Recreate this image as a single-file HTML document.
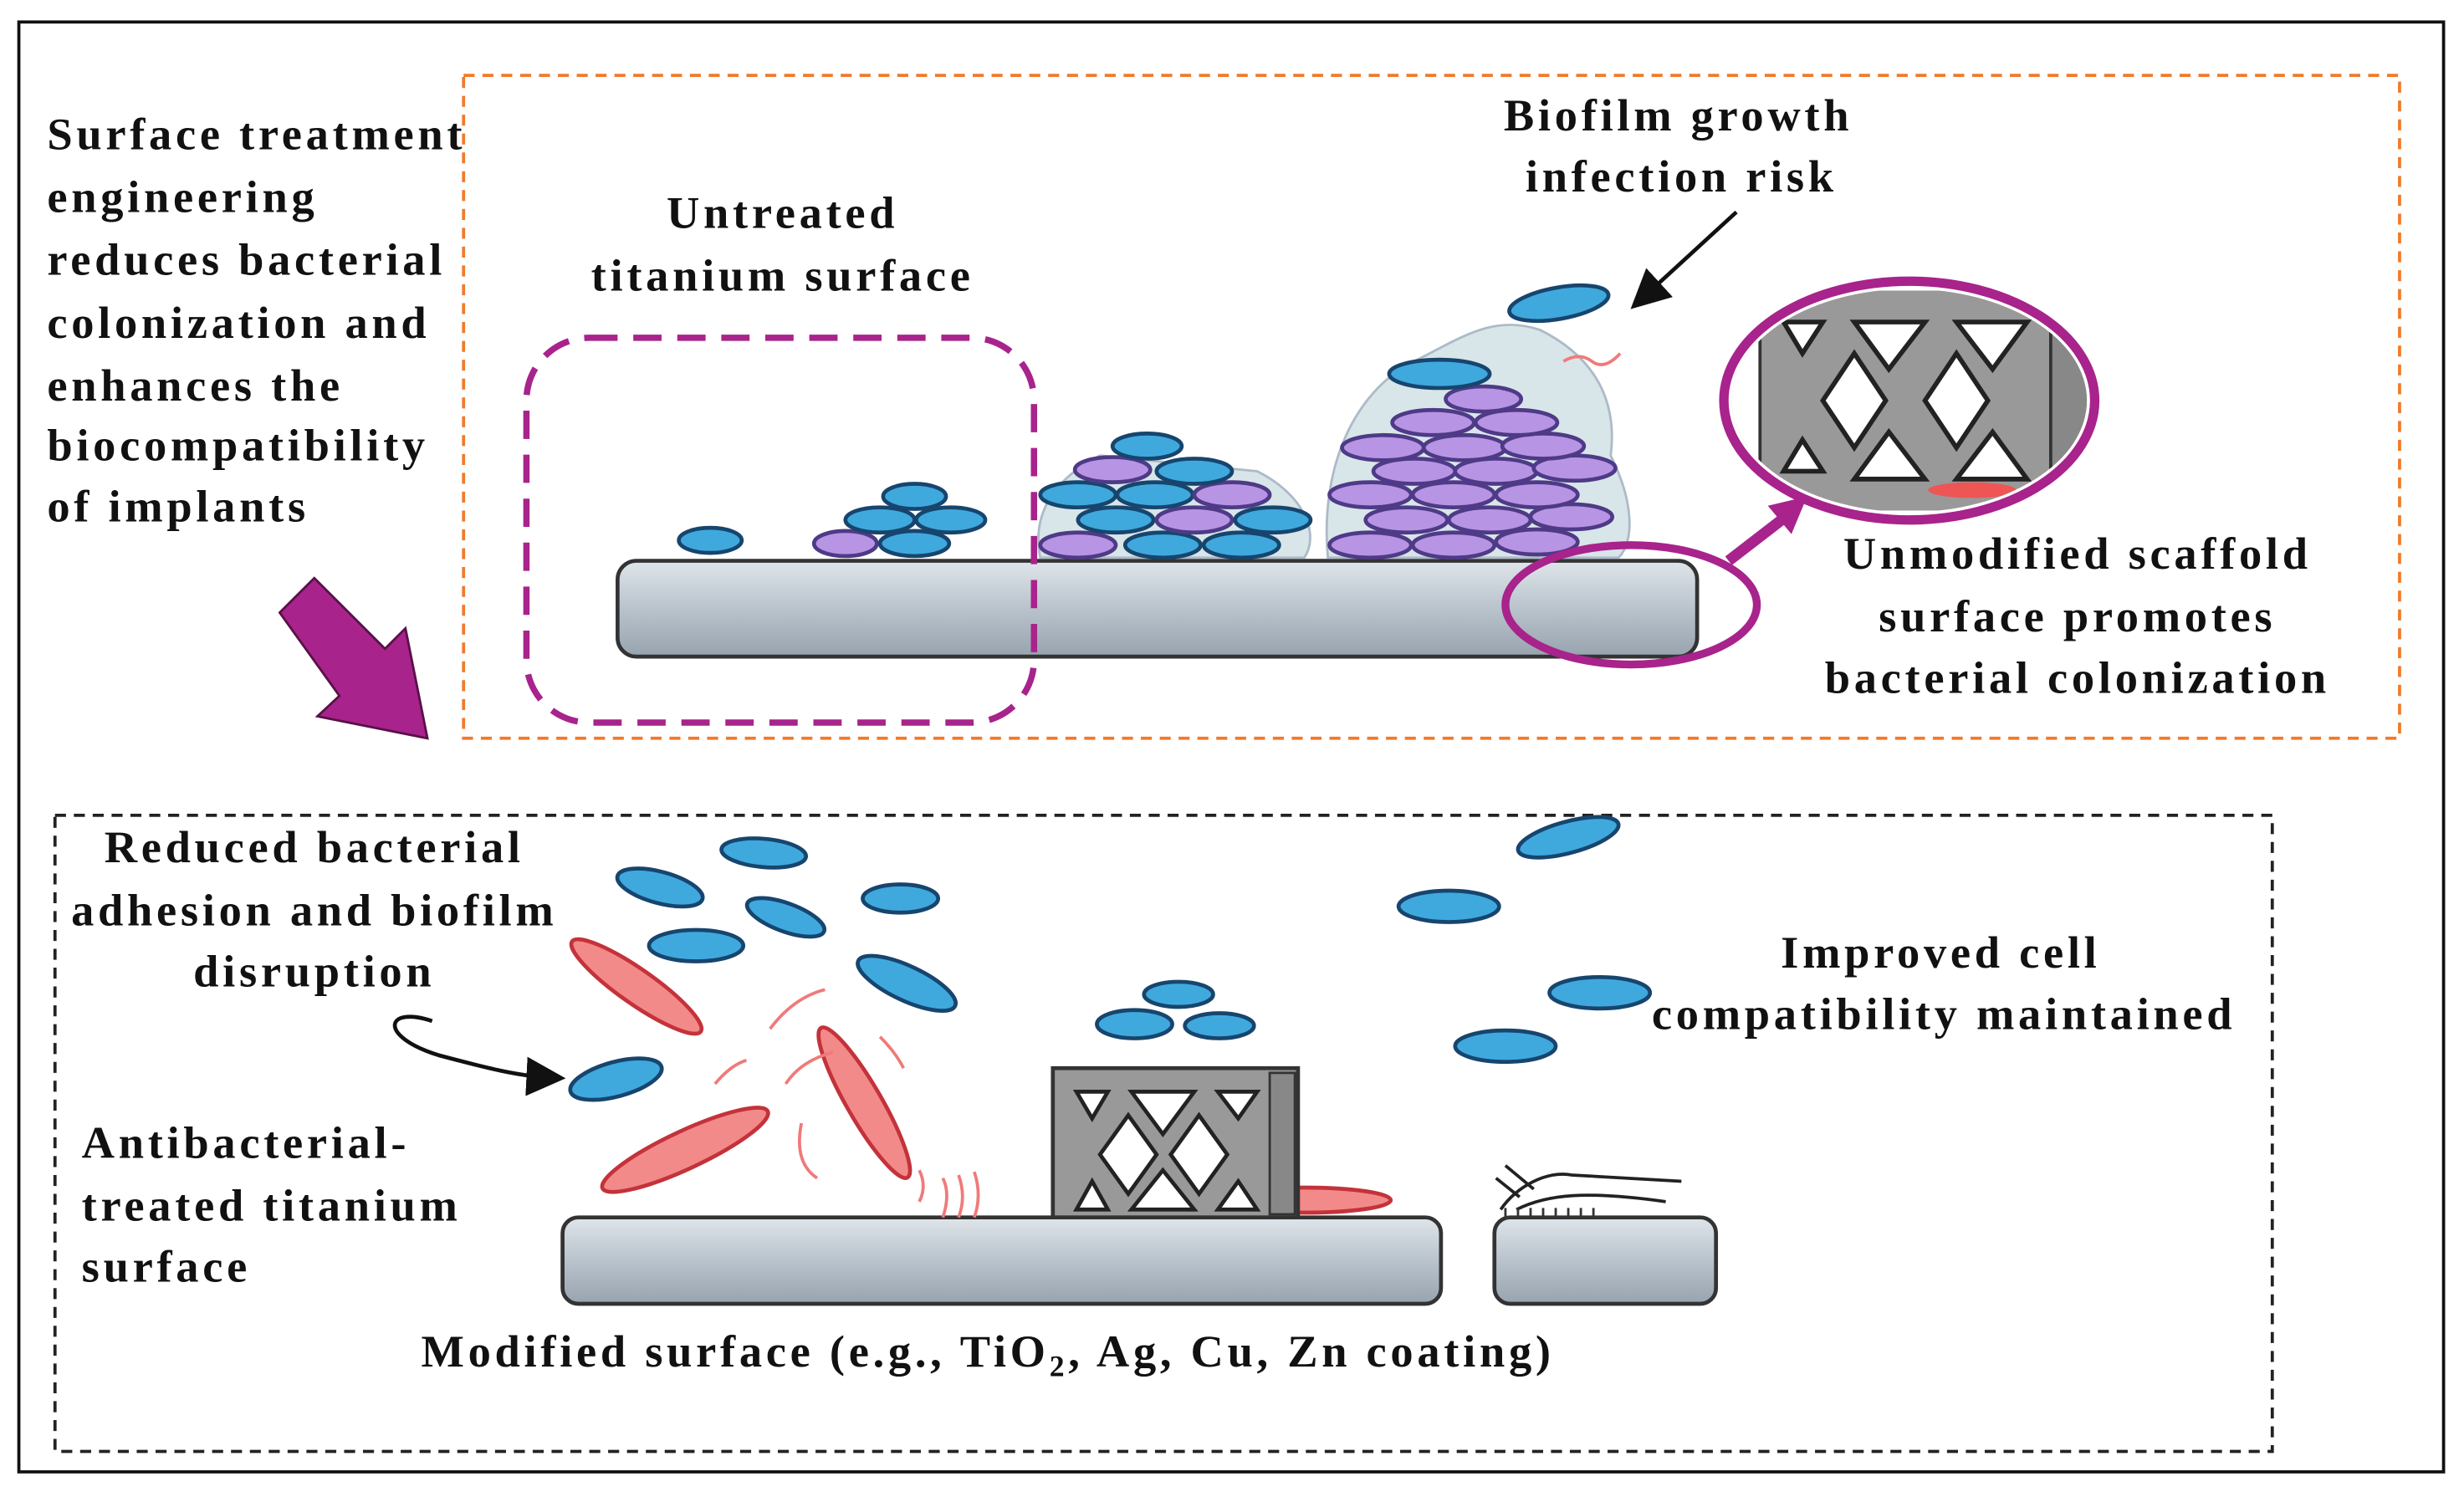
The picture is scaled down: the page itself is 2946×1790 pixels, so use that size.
<!DOCTYPE html>
<html><head><meta charset="utf-8"><style>
html,body{margin:0;padding:0;background:#fff}
svg{display:block}
text{font-family:"Liberation Serif",serif;font-weight:bold;font-size:29px;letter-spacing:2.5px;fill:#111}
.b{fill:#3fa9dd;stroke:#17456e;stroke-width:2.5}
.p{fill:#b794e4;stroke:#4e3a86;stroke-width:2.5}
.r{fill:#f28a8a;stroke:#c4323a;stroke-width:2.5}
.rl{fill:none;stroke:#f07a7a;stroke-width:2}
</style></head><body>
<svg width="2946" height="1790" viewBox="0 0 1568 953" preserveAspectRatio="none" xmlns="http://www.w3.org/2000/svg">
<defs>
<linearGradient id="g" x1="0" y1="0" x2="0" y2="1"><stop offset="0" stop-color="#dfe5ea"/><stop offset="0.5" stop-color="#b9c3cc"/><stop offset="1" stop-color="#97a3ae"/></linearGradient>
<marker id="ah" markerWidth="10" markerHeight="10" refX="6" refY="5" orient="auto"><path d="M0,0 L10,5 L0,10 z" fill="#111"/></marker>
</defs>
<rect x="12" y="14" width="1543" height="923" fill="none" stroke="#111" stroke-width="2"/>
<rect x="295" y="48" width="1232" height="422" fill="none" stroke="#f07a2a" stroke-width="2" stroke-dasharray="7,5"/>
<rect x="35" y="519" width="1411" height="405" fill="none" stroke="#222" stroke-width="2" stroke-dasharray="7,5"/>

<text x="30" y="95">Surface treatment</text>
<text x="30" y="135">engineering</text>
<text x="30" y="175">reduces bacterial</text>
<text x="30" y="215">colonization and</text>
<text x="30" y="255">enhances the</text>
<text x="30" y="293">biocompatibility</text>
<text x="30" y="332">of implants</text>

<path d="M178,390 L200,368 L245,413 L258,400 L272,470 L202,456 L216,443 Z" fill="#a8238c" stroke="#5a1048" stroke-width="1.5"/>

<rect x="393" y="357" width="687" height="61" rx="12" fill="url(#g)" stroke="#333" stroke-width="2.5"/>
<path d="M662,355 C655,320 680,300 700,290 L800,300 C830,315 840,340 830,355 Z" fill="#cfe0e4" stroke="#9ab" stroke-width="1.5" opacity="0.8"/>
<path d="M845,355 C840,300 860,250 900,230 C930,215 950,200 980,210 C1010,225 1030,250 1025,290 C1040,320 1040,345 1030,355 Z" fill="#cfe0e4" stroke="#9ab" stroke-width="1.5" opacity="0.8"/>
<rect x="335" y="215" width="323" height="245" rx="40" fill="none" stroke="#a8238c" stroke-width="4" stroke-dasharray="18,10"/>

<text x="498" y="145" text-anchor="middle">Untreated</text>
<text x="498" y="185" text-anchor="middle">titanium surface</text>
<text x="1068" y="83" text-anchor="middle">Biofilm growth</text>
<text x="1070" y="122" text-anchor="middle">infection risk</text>
<line x1="1105" y1="135" x2="1045" y2="190" stroke="#111" stroke-width="2.5" marker-end="url(#ah)"/>

<ellipse class="b" cx="452" cy="344" rx="20" ry="8"/>
<ellipse class="p" cx="538" cy="346" rx="20" ry="8"/>
<ellipse class="b" cx="582" cy="346" rx="22" ry="8"/>
<ellipse class="b" cx="560" cy="331" rx="22" ry="8"/>
<ellipse class="b" cx="605" cy="331" rx="22" ry="8"/>
<ellipse class="b" cx="582" cy="316" rx="20" ry="8"/>
<g>
<ellipse class="p" cx="686" cy="347" rx="24" ry="8"/><ellipse class="b" cx="740" cy="347" rx="24" ry="8"/><ellipse class="b" cx="790" cy="347" rx="24" ry="8"/>
<ellipse class="b" cx="710" cy="331" rx="24" ry="8"/><ellipse class="p" cx="760" cy="331" rx="24" ry="8"/><ellipse class="b" cx="810" cy="331" rx="24" ry="8"/>
<ellipse class="b" cx="686" cy="315" rx="24" ry="8"/><ellipse class="b" cx="735" cy="315" rx="24" ry="8"/><ellipse class="p" cx="784" cy="315" rx="24" ry="8"/>
<ellipse class="p" cx="708" cy="299" rx="24" ry="8"/><ellipse class="b" cx="760" cy="300" rx="24" ry="8"/>
<ellipse class="b" cx="730" cy="284" rx="22" ry="8"/>
</g>
<g>
<ellipse class="p" cx="872" cy="347" rx="26" ry="8"/><ellipse class="p" cx="925" cy="347" rx="26" ry="8"/><ellipse class="p" cx="978" cy="345" rx="26" ry="8"/>
<ellipse class="p" cx="895" cy="331" rx="26" ry="8"/><ellipse class="p" cx="948" cy="331" rx="26" ry="8"/><ellipse class="p" cx="1000" cy="329" rx="26" ry="8"/>
<ellipse class="p" cx="872" cy="315" rx="26" ry="8"/><ellipse class="p" cx="925" cy="315" rx="26" ry="8"/><ellipse class="p" cx="978" cy="315" rx="26" ry="8"/>
<ellipse class="p" cx="900" cy="300" rx="26" ry="8"/><ellipse class="p" cx="952" cy="300" rx="26" ry="8"/><ellipse class="p" cx="1002" cy="298" rx="26" ry="8"/>
<ellipse class="p" cx="880" cy="285" rx="26" ry="8"/><ellipse class="p" cx="932" cy="285" rx="26" ry="8"/><ellipse class="p" cx="982" cy="284" rx="26" ry="8"/>
<ellipse class="p" cx="912" cy="269" rx="26" ry="8"/><ellipse class="p" cx="965" cy="269" rx="26" ry="8"/>
<ellipse class="p" cx="944" cy="254" rx="24" ry="8"/>
<ellipse class="b" cx="916" cy="238" rx="32" ry="9"/>
<ellipse class="b" cx="992" cy="193" rx="32" ry="10" transform="rotate(-10 992 193)"/>
<path d="M995,230 q10,-6 18,0 t18,-5" class="rl"/>
</g>

<ellipse cx="1038" cy="385" rx="80" ry="38" fill="none" stroke="#a8238c" stroke-width="5"/>
<line x1="1100" y1="357" x2="1135" y2="330" stroke="#a8238c" stroke-width="7"/>
<path d="M1150,316 L1125,322 L1140,340 Z" fill="#a8238c"/>
<ellipse cx="1215" cy="255" rx="118" ry="76" fill="#fff" stroke="#a8238c" stroke-width="6"/>
<clipPath id="c"><ellipse cx="1215" cy="255" rx="113" ry="71"/></clipPath>
<g clip-path="url(#c)">
<rect x="1095" y="185" width="240" height="140" fill="#999"/>
<rect x="1100" y="195" width="20" height="120" fill="#fff" stroke="#333" stroke-width="2"/>
<path d="M1135,205 L1160,205 L1147,225Z M1180,205 L1225,205 L1202,235Z M1245,205 L1290,205 L1268,235Z M1160,255 L1180,225 L1200,255 L1180,285Z M1225,255 L1245,225 L1265,255 L1245,285Z M1135,300 L1160,300 L1147,280Z M1180,305 L1225,305 L1202,275Z M1245,305 L1290,305 L1268,275Z" fill="#fff" stroke="#222" stroke-width="3"/>
<rect x="1305" y="195" width="25" height="120" fill="#888" stroke="#333" stroke-width="2"/>
<ellipse cx="1255" cy="312" rx="28" ry="5" fill="#e55"/>
</g>
<text x="1322" y="362" text-anchor="middle">Unmodified scaffold</text>
<text x="1322" y="402" text-anchor="middle">surface promotes</text>
<text x="1322" y="441" text-anchor="middle">bacterial colonization</text>

<text x="200" y="549" text-anchor="middle">Reduced bacterial</text>
<text x="200" y="589" text-anchor="middle">adhesion and biofilm</text>
<text x="200" y="628" text-anchor="middle">disruption</text>
<path d="M275,650 C245,640 240,660 280,672 C310,680 330,685 350,686" fill="none" stroke="#111" stroke-width="2.5" marker-end="url(#ah)"/>
<text x="52" y="737">Antibacterial-</text>
<text x="52" y="777">treated titanium</text>
<text x="52" y="816">surface</text>
<text x="268" y="870">Modified surface (e.g., TiO<tspan font-size="19" dy="6">2</tspan><tspan dy="-6">, Ag, Cu, Zn coating)</tspan></text>
<text x="1235" y="616" text-anchor="middle">Improved cell</text>
<text x="1237" y="655" text-anchor="middle">compatibility maintained</text>

<rect x="358" y="775" width="559" height="55" rx="10" fill="url(#g)" stroke="#333" stroke-width="2.5"/>
<rect x="951" y="775" width="141" height="55" rx="10" fill="url(#g)" stroke="#333" stroke-width="2.5"/>
<ellipse class="r" cx="830" cy="764" rx="55" ry="8"/>
<rect x="670" y="680" width="156" height="95" fill="#999" stroke="#333" stroke-width="2.5"/>
<rect x="808" y="683" width="16" height="90" fill="#888" stroke="#333" stroke-width="1.5"/>
<path d="M685,695 L705,695 L695,712Z M720,695 L760,695 L740,722Z M775,695 L800,695 L788,712Z M700,735 L718,710 L736,735 L718,760Z M745,735 L763,710 L781,735 L763,760Z M685,770 L705,770 L695,752Z M720,770 L760,770 L740,745Z M775,770 L800,770 L788,752Z" fill="#fff" stroke="#222" stroke-width="2.5"/>
<path d="M955,770 C965,755 985,745 1000,748 L1070,752 M965,770 C985,760 1010,758 1060,765 M952,750 l15,12 M958,742 l18,15" fill="none" stroke="#222" stroke-width="2"/>
<path d="M958,775 l0,-6 M966,775 l0,-6 M974,775 l0,-6 M982,775 l0,-6 M990,775 l0,-6 M998,775 l0,-6 M1006,775 l0,-6 M1014,775 l0,-6" stroke="#333" stroke-width="1.5"/>

<ellipse class="b" cx="420" cy="565" rx="28" ry="10" transform="rotate(15 420 565)"/>
<ellipse class="b" cx="486" cy="543" rx="27" ry="9" transform="rotate(5 486 543)"/>
<ellipse class="b" cx="573" cy="572" rx="24" ry="9"/>
<ellipse class="b" cx="500" cy="584" rx="26" ry="9" transform="rotate(20 500 584)"/>
<ellipse class="b" cx="443" cy="602" rx="30" ry="10"/>
<ellipse class="b" cx="577" cy="626" rx="34" ry="11" transform="rotate(25 577 626)"/>
<ellipse class="b" cx="392" cy="687" rx="30" ry="11" transform="rotate(-15 392 687)"/>
<ellipse class="r" cx="405" cy="628" rx="50" ry="11" transform="rotate(35 405 628)"/>
<ellipse class="r" cx="436" cy="732" rx="58" ry="12" transform="rotate(-25 436 732)"/>
<ellipse class="r" cx="550" cy="702" rx="55" ry="11" transform="rotate(60 550 702)"/>
<path class="rl" d="M490,655 q15,-20 35,-25 M500,690 q10,-15 30,-20 M455,690 q10,-12 20,-15 M510,715 q-5,25 10,35 M560,660 q10,10 15,20 M600,750 q5,10 0,25 M610,748 q5,14 0,27 M620,746 q5,15 0,29 M585,745 q5,10 0,20"/>
<ellipse class="b" cx="750" cy="633" rx="22" ry="8"/>
<ellipse class="b" cx="722" cy="652" rx="24" ry="9"/>
<ellipse class="b" cx="776" cy="653" rx="22" ry="8"/>
<ellipse class="b" cx="998" cy="533" rx="33" ry="10" transform="rotate(-15 998 533)"/>
<ellipse class="b" cx="922" cy="577" rx="32" ry="10"/>
<ellipse class="b" cx="1018" cy="632" rx="32" ry="10"/>
<ellipse class="b" cx="958" cy="666" rx="32" ry="10"/>
</svg>
</body></html>
